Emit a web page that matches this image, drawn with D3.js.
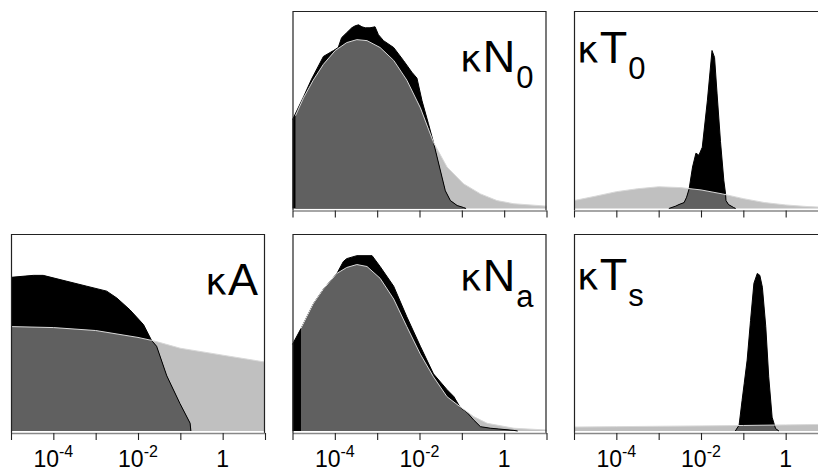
<!DOCTYPE html>
<html>
<head>
<meta charset="utf-8">
<script src="https://cdn.jsdelivr.net/npm/d3@7"></script>
<style>
  html, body { margin: 0; padding: 0; background: #fff; }
  svg { display: block; }
  text { font-family: "Liberation Sans", Arial, Helvetica, sans-serif; fill: #000; }
</style>
</head>
<body>
<svg id="chart" width="818" height="471"></svg>
<script>
// Log10 of the rate parameter: axis decades and labelled ticks
const tickDecades = [-5, -4, -3, -2, -1, 0, 1];
const labelDecades = [-4, -2, 0];

// Densities over log10(kappa): [log10 kappa, density]
const priorA = [[-5, 0.53], [-4, 0.525], [-3, 0.51], [-2, 0.475], [-1.68, 0.46], [-1.5, 0.45], [-1, 0.42], [0, 0.385], [1, 0.35]];
const postA = [[-5, 0.78], [-4.47, 0.79], [-4.24, 0.79], [-3.68, 0.76], [-3.21, 0.735], [-2.74, 0.71], [-2.5, 0.675], [-2.19, 0.615], [-1.87, 0.54], [-1.68, 0.46], [-1.56, 0.43], [-1.32, 0.28], [-1.01, 0.14], [-0.77, 0.04], [-0.75, 0]];

const priorN0 = [[-4.93, 0.47], [-4.74, 0.56], [-4.51, 0.65], [-4.27, 0.73], [-3.99, 0.8], [-3.72, 0.84], [-3.48, 0.855], [-3.24, 0.85], [-2.93, 0.815], [-2.61, 0.75], [-2.3, 0.65], [-1.98, 0.51], [-1.67, 0.335], [-1.35, 0.21], [-0.96, 0.125], [-0.56, 0.074], [-0.17, 0.04], [0.23, 0.024], [1, 0.012]];
const postN0 = [[-5, 0.45], [-4.74, 0.565], [-4.55, 0.655], [-4.27, 0.77], [-4.03, 0.8], [-3.92, 0.815], [-3.84, 0.865], [-3.72, 0.89], [-3.6, 0.915], [-3.52, 0.925], [-3.44, 0.93], [-3.36, 0.92], [-3.28, 0.915], [-3.17, 0.915], [-3.05, 0.92], [-2.97, 0.88], [-2.85, 0.85], [-2.61, 0.815], [-2.38, 0.75], [-2.18, 0.69], [-2.06, 0.66], [-1.94, 0.545], [-1.79, 0.43], [-1.67, 0.335], [-1.39, 0.09], [-1.27, 0.04], [-1.11, 0.015], [-0.96, 0.005], [-0.9, 0]];

const priorT0 = [[-5, 0.04], [-4.5, 0.062], [-4, 0.085], [-3.5, 0.1], [-3, 0.11], [-2.5, 0.106], [-2, 0.094], [-1.5, 0.074], [-1, 0.05], [-0.5, 0.03], [0, 0.018], [0.5, 0.01], [1, 0.005]];
const postT0 = [[-2.76, 0], [-2.6, 0.012], [-2.52, 0.02], [-2.4, 0.03], [-2.34, 0.057], [-2.28, 0.1], [-2.2, 0.21], [-2.12, 0.28], [-2.05, 0.27], [-1.97, 0.31], [-1.85, 0.545], [-1.74, 0.8], [-1.68, 0.765], [-1.62, 0.58], [-1.54, 0.34], [-1.46, 0.14], [-1.42, 0.075], [-1.41, 0.04], [-1.35, 0.02], [-1.23, 0.005], [-1.18, 0]];

const priorNa = [[-4.8, 0.52], [-4.51, 0.645], [-4.27, 0.72], [-3.95, 0.8], [-3.72, 0.83], [-3.48, 0.845], [-3.24, 0.835], [-2.93, 0.775], [-2.61, 0.67], [-2.3, 0.53], [-1.98, 0.39], [-1.67, 0.275], [-1.35, 0.174], [-1.04, 0.123], [-0.72, 0.073], [-0.4, 0.039], [0.23, 0.014], [1, 0.005]];
const postNa = [[-5, 0.44], [-4.8, 0.52], [-4.51, 0.645], [-4.27, 0.72], [-3.95, 0.8], [-3.8, 0.86], [-3.72, 0.875], [-3.48, 0.89], [-3.12, 0.89], [-2.93, 0.835], [-2.61, 0.735], [-2.3, 0.58], [-1.98, 0.43], [-1.67, 0.29], [-1.35, 0.21], [-1.19, 0.175], [-1.04, 0.12], [-0.88, 0.095], [-0.72, 0.056], [-0.56, 0.022], [-0.32, 0.014], [0.23, 0.003], [0.32, 0]];

const priorTs = [[-5, 0.02], [-4, 0.022], [-3, 0.024], [-2, 0.026], [-1, 0.028], [0, 0.031], [1, 0.034]];
const postTs = [[-1.19, 0], [-1.1, 0.03], [-1.03, 0.155], [-0.98, 0.24], [-0.91, 0.36], [-0.83, 0.56], [-0.75, 0.75], [-0.67, 0.8], [-0.61, 0.79], [-0.55, 0.73], [-0.47, 0.53], [-0.4, 0.275], [-0.32, 0.07], [-0.24, 0.013], [-0.16, 0]];

// Panel grid: row, column, label (with its baseline) and the two densities
const panels = [
  { row: 0, col: 1, sym: "N", sub: "0", side: "right", base: 72, prior: priorN0, post: postN0 },
  { row: 0, col: 2, sym: "T", sub: "0", side: "left", base: 63, prior: priorT0, post: postT0 },
  { row: 1, col: 0, sym: "A", sub: "", side: "right", base: 295, prior: priorA, post: postA, labelled: true },
  { row: 1, col: 1, sym: "N", sub: "a", side: "right", base: 291, prior: priorNa, post: postNa, labelled: true },
  { row: 1, col: 2, sym: "T", sub: "s", side: "left", base: 290, prior: priorTs, post: postTs, labelled: true }
];

const colLeft = [11, 292.5, 574];
const panelWidth = 254;
const rowTop = [11, 234];
const rowBottom = [208.5, 431];

const svg = d3.select("#chart");

panels.forEach((p, i) => {
  const x0 = colLeft[p.col], x1 = x0 + panelWidth;
  const yTop = rowTop[p.row], yBot = rowBottom[p.row];

  const x = d3.scaleLog().domain([1e-5, 10]).range([x0, x1]);
  const y = d3.scaleLinear().domain([0, 1]).range([yBot, yTop]);

  const g = svg.append("g");

  const area = d3.area()
    .x(d => x(Math.pow(10, d[0])))
    .y0(y(0))
    .y1(d => y(d[1]));
  const line = d3.line()
    .x(d => x(Math.pow(10, d[0])))
    .y(d => y(d[1]));

  const clipId = "post-clip-" + i;
  g.append("clipPath").attr("id", clipId)
    .append("path").attr("d", area(p.post));

  // prior (light), posterior (black), overlap (mid grey)
  g.append("path").attr("d", area(p.prior)).attr("fill", "#c0c0c0");
  g.append("path").attr("d", area(p.post)).attr("fill", "#000");
  g.append("path").attr("d", area(p.prior)).attr("fill", "#606060")
    .attr("clip-path", `url(#${clipId})`);

  g.append("path").attr("d", line(p.post))
    .attr("fill", "none").attr("stroke", "#000").attr("stroke-width", 1);
  g.append("path").attr("d", line(p.prior))
    .attr("fill", "none").attr("stroke", "#d8d8d8").attr("stroke-width", 1);

  // frame: left, top, right
  g.append("path")
    .attr("d", `M${x0 + 0.5},${yBot + 2}V${yTop + 0.5}H${x1 - 0.5}V${yBot + 2}`)
    .attr("fill", "none").attr("stroke", "#222").attr("stroke-width", 1.2);

  // bottom axis
  const axisY = yBot + 2;
  const axis = d3.axisBottom(x)
    .tickValues(tickDecades.map(e => Math.pow(10, e)))
    .tickSize(7)
    .tickSizeOuter(0)
    .tickFormat("");
  const ag = g.append("g").attr("transform", `translate(0,${axisY})`).call(axis);
  ag.select(".domain").attr("stroke", "#888").attr("stroke-width", 1.6);
  ag.selectAll(".tick line").attr("stroke", "#222").attr("stroke-width", 1.1);

  if (p.labelled) {
    labelDecades.forEach(e => {
      const t = g.append("text")
        .attr("x", x(Math.pow(10, e)))
        .attr("y", 467)
        .attr("text-anchor", "middle")
        .style("font-size", "23px");
      if (e === 0) {
        t.text("1");
      } else {
        t.append("tspan").text("10");
        t.append("tspan").attr("dy", -10).style("font-size", "16px").text(String(e));
      }
    });
  }

  // parameter label: kappa, symbol, subscript
  const lbl = g.append("text").attr("y", p.base);
  lbl.append("tspan").style("font-family", "'DejaVu Sans', sans-serif")
    .style("font-size", "37px").text("\u03ba");
  lbl.append("tspan").attr("dx", 1).style("font-size", "45px").text(p.sym);
  if (p.sub) {
    lbl.append("tspan").attr("dy", 16).attr("dx", 1).style("font-size", "31px").text(p.sub);
  }
  if (p.side === "right") {
    lbl.attr("x", x1 - (p.sub ? 13 : 7)).attr("text-anchor", "end");
  } else {
    lbl.attr("x", x0 + 3).attr("text-anchor", "start");
  }
});
</script>
</body>
</html>
